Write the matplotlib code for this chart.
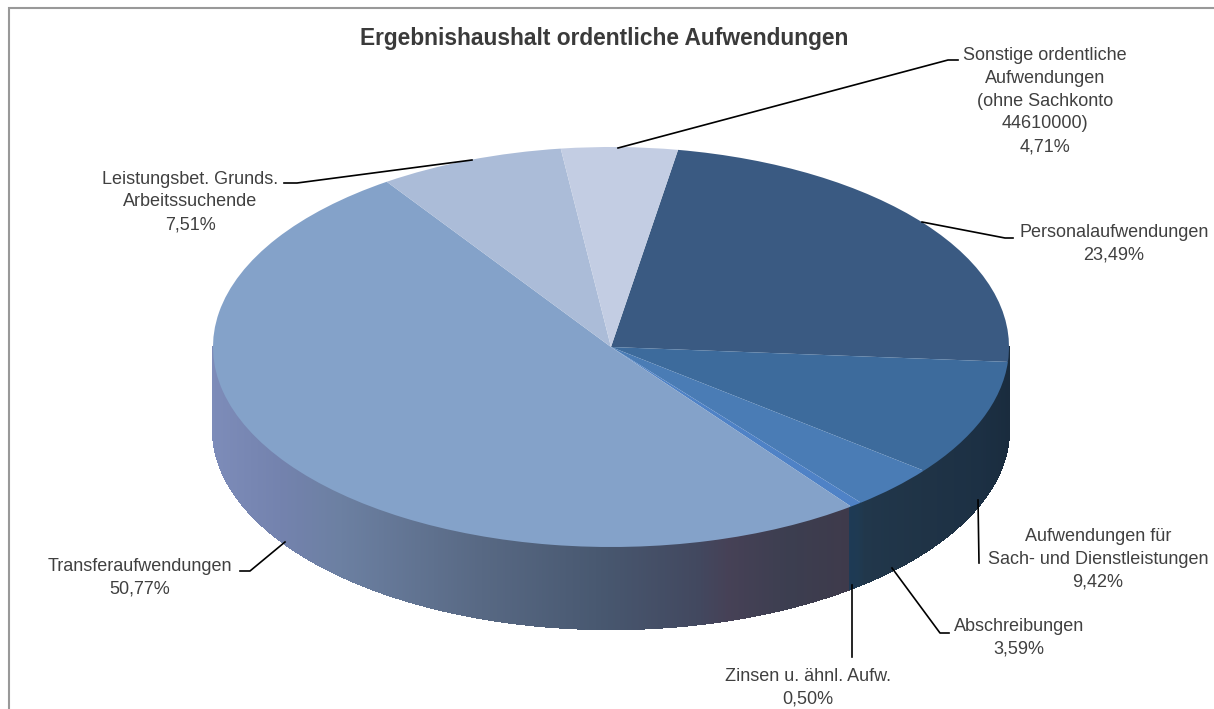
import numpy as np
import matplotlib
matplotlib.use("Agg")
import matplotlib.pyplot as plt
from matplotlib.collections import PolyCollection
from matplotlib.colors import to_rgb

# share of ordinary expenses in percent, clockwise from the top
labels = [
    "Personalaufwendungen",
    "Aufwendungen für\nSach- und Dienstleistungen",
    "Abschreibungen",
    "Zinsen u. ähnl. Aufw.",
    "Transferaufwendungen",
    "Leistungsbet. Grunds.\nArbeitssuchende",
    "Sonstige ordentliche\nAufwendungen\n(ohne Sachkonto\n44610000)",
]
shares = [23.49, 9.42, 3.59, 0.50, 50.77, 7.51, 4.71]
title = "Ergebnishaushalt ordentliche Aufwendungen"

plt.rcParams["font.family"] = ["Liberation Sans", "DejaVu Sans"]

W, H = 1214, 709
fig = plt.figure(figsize=(W / 100, H / 100), dpi=100, facecolor="white")

# pie centre and radii in pixels, the axes squash the circle to an ellipse
cx, cy = 611, 347
rx, ry = 398, 200
depth = 82 / ry
start = 80.3

colors = ["#3A5A82", "#3D6B9C", "#4A7CB5", "#4F82C6", "#84A2C9", "#ABBCD8", "#C3CDE3"]

ax = fig.add_axes([0, 0, 1, 1])
ax.pie(shares, colors=colors, startangle=start, counterclock=False, radius=1,
       wedgeprops={"linewidth": 0})
ax.set_aspect("auto")
ax.set_xlim(-cx / rx, (W - cx) / rx)
ax.set_ylim((cy - H) / ry, cy / ry)
ax.axis("off")

# side wall as thin strips, shaded along x
stops = [
    (213, "#7D8CB9"), (285, "#7382AD"), (340, "#6C80A2"), (480, "#586984"),
    (600, "#485870"), (700, "#42485F"), (730, "#464156"), (790, "#3C3E50"),
    (850, "#3E3A4B"), (851, "#1E3A55"), (860, "#1F3A52"), (866, "#21374B"),
    (930, "#1F3346"), (980, "#1C3044"), (1010, "#1A2C3E"),
]
sx = [s[0] for s in stops]
srgb = np.array([to_rgb(s[1]) for s in stops])

ang = np.radians(np.linspace(180, 360, 721))
xs = np.cos(ang)
ys = np.sin(ang)
strips, strip_cols = [], []
for i in range(len(ang) - 1):
    strips.append([(xs[i], ys[i]), (xs[i + 1], ys[i + 1]),
                   (xs[i + 1], ys[i + 1] - depth), (xs[i], ys[i] - depth)])
    xm = cx + rx * (xs[i] + xs[i + 1]) / 2
    strip_cols.append([np.interp(xm, sx, srgb[:, k]) for k in range(3)])
wall = PolyCollection(strips, facecolors=strip_cols, edgecolors=strip_cols,
                      linewidths=1.0, antialiaseds=False, zorder=0.5)
ax.add_collection(wall)

# overlay in pixel coordinates for border, leader lines and text
ov = fig.add_axes([0, 0, 1, 1], facecolor="none")
ov.set_xlim(0, W)
ov.set_ylim(H, 0)
ov.axis("off")

ov.plot([9, 9, W], [H, 8, 8], color="#999999", lw=1.5, solid_joinstyle="miter")

ov.text(604, 39, title, fontsize=16.4, fontweight="bold", color="#3A3A3A",
        ha="center", va="center")

# label centre x/y, leader line path, same order as the data
layout = [
    (1114, 244, [(922, 222), (1005, 238), (1013, 238)]),
    (1098, 559, [(978, 500), (979, 563)]),
    (1019, 638, [(892, 568), (940, 633), (949, 633)]),
    (808, 688, [(852, 585), (852, 657)]),
    (140, 578, [(285, 542), (250, 571), (240, 571)]),
    (190, 202, [(472, 160), (297, 183), (284, 183)]),
    (1045, 101, [(618, 148), (948, 60), (958, 60)]),
]
for lab, val, (tx, ty, path) in zip(labels, shares, layout):
    txt = lab + "\n" + f"{val:.2f}".replace(".", ",") + "%"
    ov.text(tx, ty, txt, fontsize=13, color="#404040", ha="center", va="center",
            linespacing=1.45)
    px, py = zip(*path)
    ov.plot(px, py, color="black", lw=1.2)

fig.savefig("out.png", dpi=100, facecolor="white")
